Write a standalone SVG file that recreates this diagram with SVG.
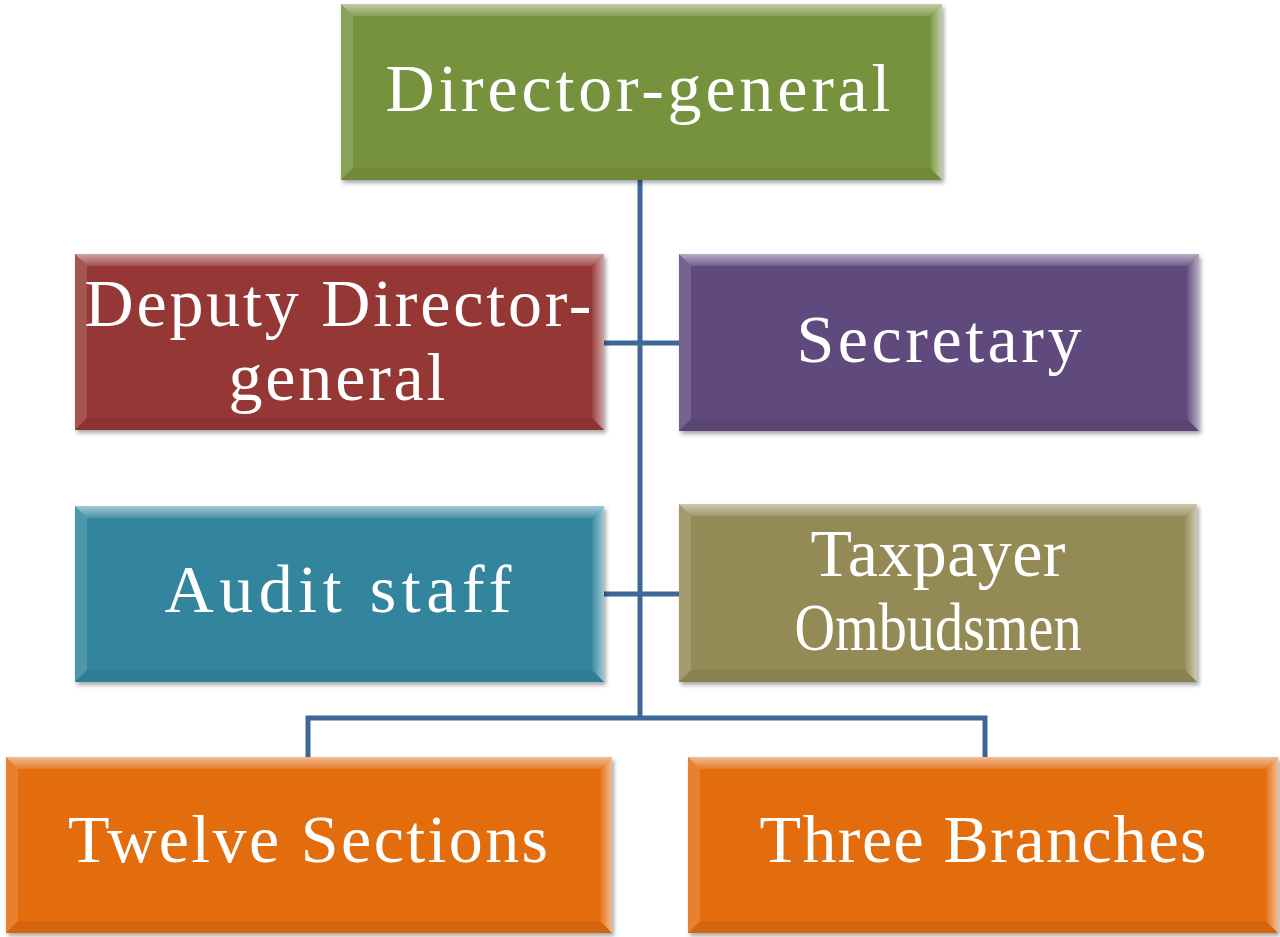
<svg xmlns="http://www.w3.org/2000/svg" width="1280" height="937" viewBox="0 0 1280 937">
<style>
.lbl{font-family:"Liberation Serif","Times New Roman",serif;font-size:68px;fill:#ffffff;text-anchor:middle}
.conn{stroke:#3E6696;stroke-width:5;fill:none}
.bt{fill:url(#bevTop)}
.bl{fill:#ffffff;fill-opacity:0.14}
.br{fill:url(#bevRight)}
.bb{fill:#000000;fill-opacity:0.06}
</style>
<defs>
<filter id="sh" x="-5%" y="-5%" width="110%" height="115%">
<feDropShadow dx="2" dy="3" stdDeviation="2" flood-color="#000" flood-opacity="0.35"/>
</filter>
<linearGradient id="bevTop" x1="0" y1="0" x2="0" y2="1">
<stop offset="0" stop-color="#fff" stop-opacity="0.55"/>
<stop offset="1" stop-color="#fff" stop-opacity="0.12"/>
</linearGradient>
<linearGradient id="bevRight" x1="0" y1="0" x2="1" y2="0">
<stop offset="0" stop-color="#fff" stop-opacity="0.05"/>
<stop offset="1" stop-color="#fff" stop-opacity="0.55"/>
</linearGradient>
</defs>
<rect width="1280" height="937" fill="#ffffff"/>
<g id="connectors">
<path class="conn" d="M640 180 V718"/>
<path class="conn" d="M604 343 H679"/>
<path class="conn" d="M604 594 H679"/>
<path class="conn" d="M308 757 V718 H985 V757"/>
</g>
<g id="n-director">
<rect x="341" y="4" width="601" height="176" fill="#76923C" filter="url(#sh)"/>
<polygon class="bt" points="341,4 942,4 930,16 353,16"/>
<polygon class="bl" points="341,4 353,16 353,168 341,180"/>
<polygon class="br" points="942,4 942,180 930,168 930,16"/>
<polygon class="bb" points="341,180 942,180 930,168 353,168"/>
<text class="lbl" x="638" y="111" textLength="505" lengthAdjust="spacing">Director-general</text>
</g>
<g id="n-deputy">
<rect x="75" y="254" width="529" height="176" fill="#953735" filter="url(#sh)"/>
<polygon class="bt" points="75,254 604,254 592,266 87,266"/>
<polygon class="bl" points="75,254 87,266 87,418 75,430"/>
<polygon class="br" points="604,254 604,430 592,418 592,266"/>
<polygon class="bb" points="75,430 604,430 592,418 87,418"/>
<text class="lbl" x="338" y="326" textLength="507" lengthAdjust="spacing">Deputy Director-</text>
<text class="lbl" x="337" y="400" textLength="217" lengthAdjust="spacing">general</text>
</g>
<g id="n-secretary">
<rect x="679" y="254" width="520" height="177" fill="#604A7B" filter="url(#sh)"/>
<polygon class="bt" points="679,254 1199,254 1187,266 691,266"/>
<polygon class="bl" points="679,254 691,266 691,419 679,431"/>
<polygon class="br" points="1199,254 1199,431 1187,419 1187,266"/>
<polygon class="bb" points="679,431 1199,431 1187,419 691,419"/>
<text class="lbl" x="939" y="362" textLength="285" lengthAdjust="spacing">Secretary</text>
</g>
<g id="n-audit">
<rect x="75" y="506" width="529" height="176" fill="#31859C" filter="url(#sh)"/>
<polygon class="bt" points="75,506 604,506 592,518 87,518"/>
<polygon class="bl" points="75,506 87,518 87,670 75,682"/>
<polygon class="br" points="604,506 604,682 592,670 592,518"/>
<polygon class="bb" points="75,682 604,682 592,670 87,670"/>
<text class="lbl" x="338" y="612" textLength="347" lengthAdjust="spacing">Audit staff</text>
</g>
<g id="n-ombudsmen">
<rect x="679" y="504" width="518" height="178" fill="#948A54" filter="url(#sh)"/>
<polygon class="bt" points="679,504 1197,504 1185,516 691,516"/>
<polygon class="bl" points="679,504 691,516 691,670 679,682"/>
<polygon class="br" points="1197,504 1197,682 1185,670 1185,516"/>
<polygon class="bb" points="679,682 1197,682 1185,670 691,670"/>
<text class="lbl" x="938" y="576" textLength="255" lengthAdjust="spacing">Taxpayer</text>
<text class="lbl" x="938" y="650" textLength="287" lengthAdjust="spacingAndGlyphs">Ombudsmen</text>
</g>
<g id="n-sections">
<rect x="6" y="757" width="606" height="176" fill="#E36C09" filter="url(#sh)"/>
<polygon class="bt" points="6,757 612,757 600,769 18,769"/>
<polygon class="bl" points="6,757 18,769 18,921 6,933"/>
<polygon class="br" points="612,757 612,933 600,921 600,769"/>
<polygon class="bb" points="6,933 612,933 600,921 18,921"/>
<text class="lbl" x="308" y="862" textLength="480" lengthAdjust="spacing">Twelve Sections</text>
</g>
<g id="n-branches">
<rect x="688" y="757" width="590" height="176" fill="#E36C09" filter="url(#sh)"/>
<polygon class="bt" points="688,757 1278,757 1266,769 700,769"/>
<polygon class="bl" points="688,757 700,769 700,921 688,933"/>
<polygon class="br" points="1278,757 1278,933 1266,921 1266,769"/>
<polygon class="bb" points="688,933 1278,933 1266,921 700,921"/>
<text class="lbl" x="983" y="862" textLength="447" lengthAdjust="spacing">Three Branches</text>
</g>
</svg>
